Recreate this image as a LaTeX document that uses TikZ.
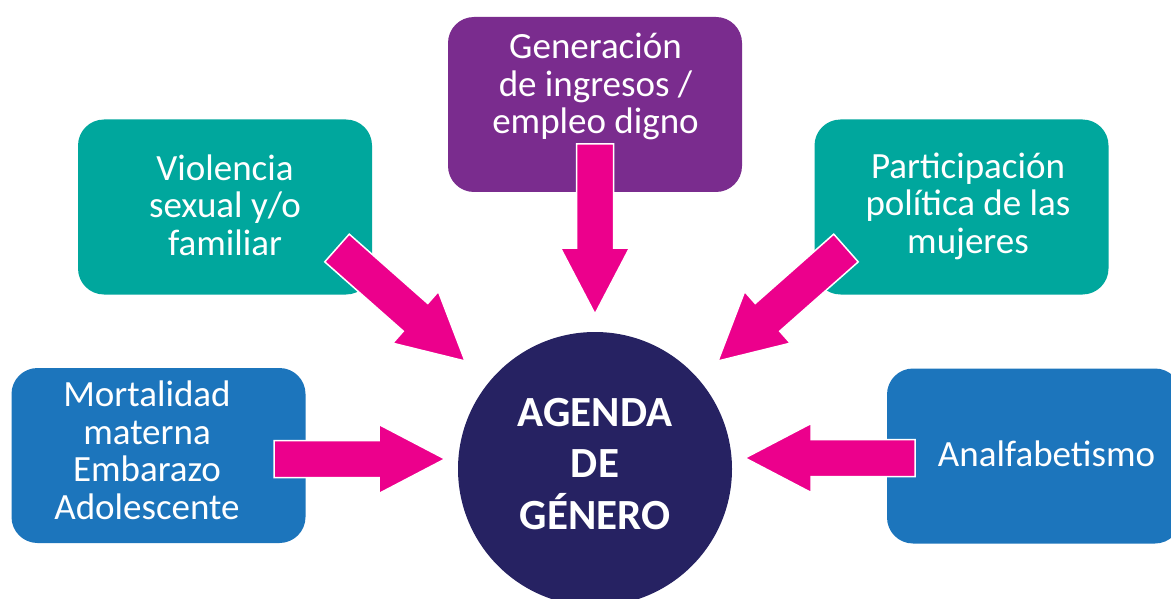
\documentclass[tikz,border=0pt]{standalone}
\usepackage{fontspec}
\setmainfont{Carlito}
\usetikzlibrary{calc}
\definecolor{tealbox}{HTML}{00A79D}
\definecolor{purplebox}{HTML}{7A2C8E}
\definecolor{bluebox}{HTML}{1C75BC}
\definecolor{navycirc}{HTML}{262262}
\definecolor{arrowmag}{HTML}{EC008C}
\tikzset{
  topicbox/.style={rounded corners=26pt, minimum width=294pt, minimum height=175pt, inner sep=0pt},
  topictext/.style={text=white, align=center, inner sep=0pt, font=\fontsize{37}{37.5}\selectfont},
  fatarrow/.style={fill=arrowmag, draw=white, line width=1.5pt, line join=miter},
}
\newcommand{\blockarrow}[2]{%
  \path ($(#2)!66pt!(#1)$) coordinate (hb);
  \filldraw[fatarrow] ($(#1)!18.5pt!90:(#2)$) -- ($(hb)!18.5pt!90:(#2)$) -- ($(hb)!34.5pt!90:(#2)$) -- (#2)
    -- ($(hb)!34.5pt!-90:(#2)$) -- ($(hb)!18.5pt!-90:(#2)$) -- ($(#1)!18.5pt!-90:(#2)$) -- cycle;
}
\begin{document}
\begin{tikzpicture}[x=1pt,y=-1pt]
\useasboundingbox (0,0) rectangle (1171,599);
\clip (0,0) rectangle (1171,599);
\fill[white] (0,0) rectangle (1171,599);
% boxes
\node[topicbox, fill=tealbox] (bviol) at (225,207) {};
\node[topicbox, fill=purplebox] (bgen) at (595,104.5) {};
\node[topicbox, fill=tealbox] (bpart) at (961.5,207) {};
\node[topicbox, fill=bluebox] (bmort) at (158.5,455.5) {};
\node[topicbox, fill=bluebox] (banal) at (1034,456) {};
% texts
\node[topictext] (tviol) at (225,205) {Violencia\\sexual y/o\\familiar};
\node[topictext] (tgen) at (595.5,86.5) {Generación\\de ingresos /\\empleo digno};
\node[topictext] (tpart) at (968,206) {Participación\\política de las\\mujeres};
\node[topictext] (tmort) at (147,450.5) {Mortalidad\\materna\\Embarazo\\Adolescente};
\node[topictext] (tanal) at (1046.5,454) {Analfabetismo};
% centre
\node[circle, fill=navycirc, minimum size=274pt, inner sep=0pt] (agenda) at (595,469) {};
\node[text=white, align=center, inner sep=0pt, font=\fontsize{43}{51.5}\selectfont\bfseries] (tagenda) at (595,464) {AGENDA\\DE\\GÉNERO};
% arrows
\coordinate (a1t) at (274,459); \coordinate (a1h) at (445,459);
\coordinate (a2t) at (915,458); \coordinate (a2h) at (745,458);
\coordinate (a3t) at (595,144); \coordinate (a3h) at (595,314);
\coordinate (a4t) at (337,248); \coordinate (a4h) at (465,361);
\coordinate (a5t) at (846,248); \coordinate (a5h) at (718,361);
\blockarrow{a1t}{a1h}
\blockarrow{a2t}{a2h}
\blockarrow{a3t}{a3h}
\blockarrow{a4t}{a4h}
\blockarrow{a5t}{a5h}
\end{tikzpicture}
\end{document}
